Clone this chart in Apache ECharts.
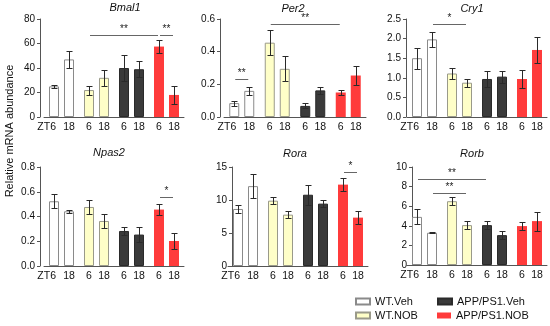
<!DOCTYPE html>
<html><head><meta charset="utf-8">
<script src="https://cdn.jsdelivr.net/npm/echarts@6/dist/echarts.min.js"></script>
<style>html,body{margin:0;padding:0;background:#fff}#c{width:550px;height:326px}</style>
</head><body><div id="c"></div>
<script>
// ---------- DATA ----------
const groups = ['WT.Veh', 'WT.NOB', 'APP/PS1.Veh', 'APP/PS1.NOB'];
const timeLabels = [['ZT6', '18'], ['6', '18'], ['6', '18'], ['6', '18']];
const genes = ['Bmal1', 'Per2', 'Cry1', 'Npas2', 'Rora', 'Rorb'];

// mean values per group at ZT6 and ZT18, with SEM
const bmal1ZT6 = [25, 22, 40, 57.5];
const bmal1ZT18 = [47, 32, 39, 18];
const bmal1ErrZT6 = [1, 3.7, 11, 5];
const bmal1ErrZT18 = [7, 6.5, 6.5, 7];
const bmal1Ticks = [0, 20, 40, 60, 80];
const bmal1Sig = [[2, 6, 67, '**'], [6, 7, 67, '**']];

const per2ZT6 = [0.085, 0.455, 0.068, 0.15];
const per2ZT18 = [0.16, 0.295, 0.163, 0.254];
const per2ErrZT6 = [0.015, 0.075, 0.015, 0.015];
const per2ErrZT18 = [0.024, 0.077, 0.02, 0.06];
const per2Ticks = [0.0, 0.2, 0.4, 0.6];
const per2Sig = [[0, 1, 0.233, '**'], [2, 6, 0.571, '**']];

const cry1ZT6 = [1.5, 1.11, 0.97, 0.97];
const cry1ZT18 = [1.98, 0.875, 1.03, 1.71];
const cry1ErrZT6 = [0.27, 0.15, 0.2, 0.23];
const cry1ErrZT18 = [0.2, 0.1, 0.15, 0.33];
const cry1Ticks = [0.0, 0.5, 1.0, 1.5, 2.0, 2.5];
const cry1Sig = [[1, 3, 2.36, '*']];

const npas2ZT6 = [0.523, 0.477, 0.283, 0.456];
const npas2ZT18 = [0.442, 0.364, 0.254, 0.202];
const npas2ErrZT6 = [0.057, 0.057, 0.034, 0.047];
const npas2ErrZT18 = [0.01, 0.054, 0.06, 0.063];
const npas2Ticks = [0.0, 0.2, 0.4, 0.6, 0.8];
const npas2Sig = [[6, 7, 0.558, '*']];

const roraZT6 = [8.64, 9.9, 10.8, 12.33];
const roraZT18 = [12.1, 7.78, 9.45, 7.33];
const roraErrZT6 = [0.6, 0.55, 1.5, 0.95];
const roraErrZT18 = [1.8, 0.5, 0.55, 0.98];
const roraTicks = [0, 5, 10, 15];
const roraSig = [[6, 7, 14.24, '*']];

const rorbZT6 = [4.91, 6.51, 4.07, 3.97];
const rorbZT18 = [3.29, 4.07, 3.05, 4.48];
const rorbErrZT6 = [0.77, 0.43, 0.37, 0.42];
const rorbErrZT18 = [0.05, 0.37, 0.44, 0.97];
const rorbTicks = [0, 2, 4, 6, 8, 10];
const rorbSig = [[0, 4, 8.82, '**'], [1, 3, 7.36, '**']];

const panelsData = [
  {zt6: bmal1ZT6, zt18: bmal1ZT18, e6: bmal1ErrZT6, e18: bmal1ErrZT18, ticks: bmal1Ticks, sig: bmal1Sig, dec: 0},
  {zt6: per2ZT6, zt18: per2ZT18, e6: per2ErrZT6, e18: per2ErrZT18, ticks: per2Ticks, sig: per2Sig, dec: 1},
  {zt6: cry1ZT6, zt18: cry1ZT18, e6: cry1ErrZT6, e18: cry1ErrZT18, ticks: cry1Ticks, sig: cry1Sig, dec: 1},
  {zt6: npas2ZT6, zt18: npas2ZT18, e6: npas2ErrZT6, e18: npas2ErrZT18, ticks: npas2Ticks, sig: npas2Sig, dec: 1},
  {zt6: roraZT6, zt18: roraZT18, e6: roraErrZT6, e18: roraErrZT18, ticks: roraTicks, sig: roraSig, dec: 0},
  {zt6: rorbZT6, zt18: rorbZT18, e6: rorbErrZT6, e18: rorbErrZT18, ticks: rorbTicks, sig: rorbSig, dec: 0}
];

// ---------- STYLE / LAYOUT ----------
const FONT = "'Liberation Sans', Arial, Helvetica, sans-serif";
const groupStyles = [
  {color: '#ffffff', borderColor: '#8a8a8a', borderWidth: 1},
  {color: '#ffffc8', borderColor: '#9a9a8a', borderWidth: 1},
  {color: '#3a3a3a', borderColor: '#2a2a2a', borderWidth: 1},
  {color: '#ff3b3b', borderColor: '#ff3b3b', borderWidth: 0}
];
const layout = [
  {left: 44, top: 19, width: 140, height: 98, axisX: 40, tx: 125, ty: 2},
  {left: 224, top: 19, width: 142, height: 98, axisX: 220, tx: 293, ty: 3.5},
  {left: 407, top: 19, width: 140, height: 98, axisX: 406, tx: 472, ty: 3.5},
  {left: 44, top: 167, width: 140, height: 99, axisX: 40, tx: 109, ty: 147},
  {left: 228, top: 167, width: 140, height: 99, axisX: 232, tx: 295, ty: 148.5},
  {left: 407, top: 167, width: 140, height: 98, axisX: 412, tx: 472, ty: 148.5}
];
const legendPos = [[355, 296], [355, 310], [437, 296], [437, 310]];
const BAR_W = 10, HALF = 7.5;
const lblBase = {fontSize: 10.5, fontFamily: FONT, color: '#111', lineHeight: 12};

const grids = [], xAxes = [], yAxes = [], series = [], titles = [];
layout.forEach((L, i) => {
  const P = panelsData[i];
  grids.push({left: L.left, top: L.top, width: L.width, height: L.height});
  xAxes.push({
    type: 'category', gridIndex: i, data: groups,
    axisLine: {lineStyle: {color: '#555', width: 1}},
    axisTick: {show: false},
    axisLabel: {
      margin: 4, interval: 0,
      formatter: (v, idx) => {
        const t = timeLabels[idx];
        if (t[0].length > 1) {
          return '{a|' + t[0] + '}{g|}{n|' + t[1] + '}{pad|}';
        }
        return '{n|' + t[0] + '}{n|' + t[1] + '}';
      },
      rich: {
        n: Object.assign({width: 15, align: 'center'}, lblBase),
        a: Object.assign({width: 20.4, align: 'right'}, lblBase),
        g: {width: 4.6, lineHeight: 12},
        pad: {width: 10, lineHeight: 12}
      }
    }
  });
  const tk = P.ticks;
  yAxes.push({
    type: 'value', gridIndex: i, min: tk[0], max: tk[tk.length - 1], interval: tk[1] - tk[0],
    offset: L.left - L.axisX,
    axisLine: {show: true, lineStyle: {color: '#555', width: 1}},
    axisTick: {show: true, length: 3, lineStyle: {color: '#555'}},
    splitLine: {show: false},
    axisLabel: {margin: 5, fontSize: 10, fontFamily: FONT, color: '#111',
      formatter: v => v.toFixed(P.dec)}
  });
  titles.push({text: genes[i], left: L.tx, top: L.ty, textAlign: 'center', padding: 0,
    textStyle: {fontSize: 11, fontStyle: 'italic', fontWeight: 'normal', fontFamily: FONT, color: '#111'}});

  [[P.zt6, 'ZT6'], [P.zt18, 'ZT18']].forEach(([vals, nm]) => {
    series.push({
      type: 'bar', name: nm + '_' + i, xAxisIndex: i, yAxisIndex: i,
      barWidth: BAR_W, barGap: '50%',
      data: vals.map((v, g) => ({value: v, itemStyle: groupStyles[g]})),
      silent: true, animation: false
    });
  });
  // error bars
  const eData = [];
  for (let g = 0; g < 4; g++) {
    eData.push([g, P.zt6[g], P.e6[g], 0]);
    eData.push([g, P.zt18[g], P.e18[g], 1]);
  }
  series.push({
    type: 'custom', xAxisIndex: i, yAxisIndex: i, z: 5, silent: true, animation: false,
    encode: {x: 0, y: 1},
    data: eData,
    renderItem: (params, api) => {
      const g = api.value(0), v = api.value(1), e = api.value(2), side = api.value(3);
      const c = api.coord([g, v]);
      const x = Math.round(c[0] + (side ? HALF : -HALF)) + 0.5;
      const yT = Math.round(api.coord([g, v + e])[1]) + 0.5;
      const yB = Math.round(api.coord([g, v - e])[1]) + 0.5;
      const st = {stroke: '#2a2a2a', lineWidth: 1};
      return {type: 'group', children: [
        {type: 'line', shape: {x1: x, y1: yT, x2: x, y2: yB}, style: st},
        {type: 'line', shape: {x1: x - 3, y1: yT, x2: x + 3, y2: yT}, style: st},
        {type: 'line', shape: {x1: x - 3, y1: yB, x2: x + 3, y2: yB}, style: st}
      ]};
    }
  });
  // significance brackets
  series.push({
    type: 'custom', xAxisIndex: i, yAxisIndex: i, z: 6, silent: true, animation: false,
    encode: {x: 0, y: 2},
    data: P.sig.map(s => [s[0], s[1], s[2]]),
    renderItem: (params, api) => {
      const a = api.value(0), b = api.value(1), y = api.value(2);
      const label = P.sig[params.dataIndex][3];
      const xa = api.coord([Math.floor(a / 2), y])[0] + (a % 2 ? HALF : -HALF) + 1;
      const xb = api.coord([Math.floor(b / 2), y])[0] + (b % 2 ? HALF : -HALF) - 1;
      const py = Math.round(api.coord([0, y])[1]) + 0.5;
      return {type: 'group', children: [
        {type: 'line', shape: {x1: xa, y1: py, x2: xb, y2: py}, style: {stroke: '#666', lineWidth: 1}},
        {type: 'text', x: (xa + xb) / 2, y: py - 1, style: {text: label, align: 'center', verticalAlign: 'bottom',
          fontSize: 10, fontFamily: FONT, fill: '#222'}}
      ]};
    }
  });
});

// legend host (hidden)
grids.push({left: 0, top: 0, width: 1, height: 1, show: false});
xAxes.push({type: 'category', gridIndex: 6, show: false, data: []});
yAxes.push({type: 'value', gridIndex: 6, show: false});
groups.forEach((g, k) => {
  series.push({type: 'bar', name: g, xAxisIndex: 6, yAxisIndex: 6, data: [],
    itemStyle: groupStyles[k].borderWidth ? groupStyles[k] : {color: groupStyles[k].color}});
});
const legends = groups.map((g, k) => ({
  data: [g], left: legendPos[k][0], top: legendPos[k][1], padding: 0,
  itemWidth: 14, itemHeight: 6, icon: 'rect', selectedMode: false,
  textStyle: {fontSize: 11, fontFamily: FONT, color: '#111'}
}));

const chart = echarts.init(document.getElementById('c'), null, {renderer: 'canvas'});
chart.setOption({
  animation: false,
  backgroundColor: '#fff',
  title: titles,
  grid: grids, xAxis: xAxes, yAxis: yAxes, series: series,
  legend: legends,
  graphic: [{type: 'text', x: 10, y: 131, rotation: Math.PI / 2,
    style: {text: 'Relative mRNA abundance', align: 'center', verticalAlign: 'middle', fontSize: 11, fontFamily: FONT, fill: '#111'}}]
});
</script></body></html>
